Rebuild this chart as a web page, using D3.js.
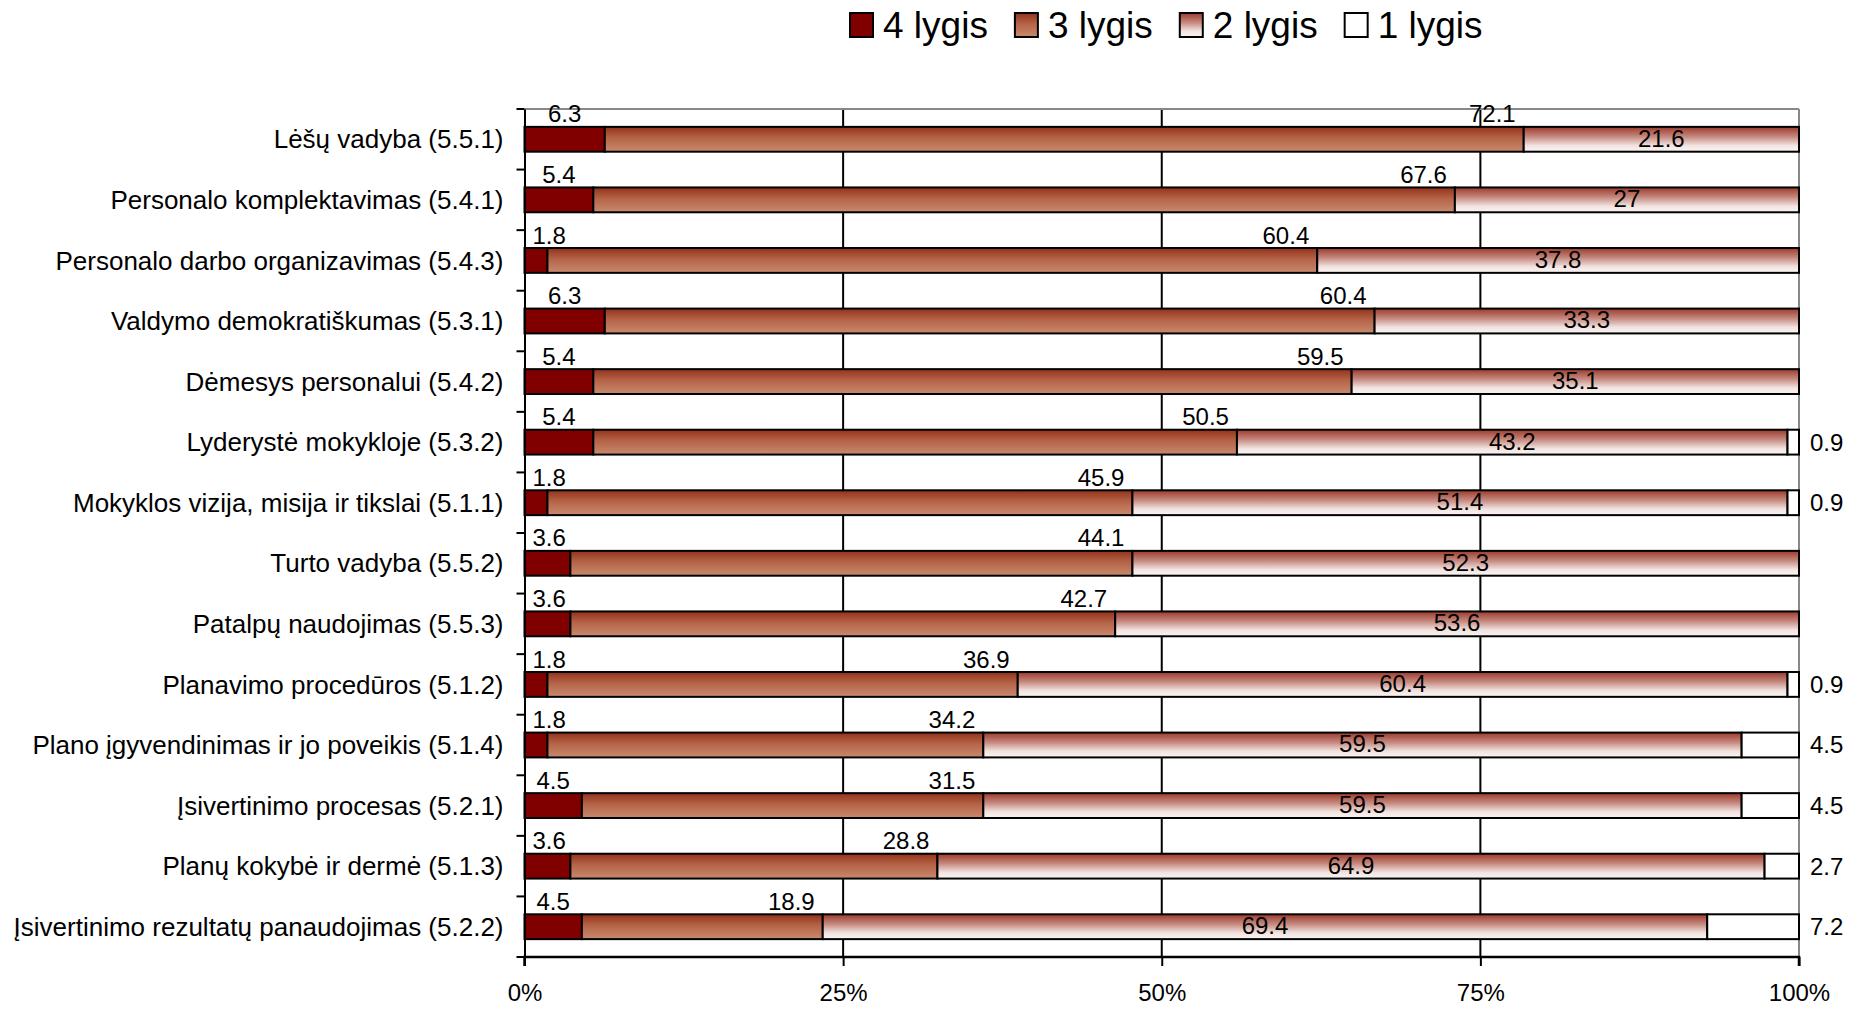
<!DOCTYPE html>
<html>
<head>
<meta charset="utf-8">
<script src="https://cdn.jsdelivr.net/npm/d3@7"></script>
<style>
  body { margin: 0; background: #fff; }
  svg text { font-family: "Liberation Sans", Arial, sans-serif; fill: #000; }
</style>
</head>
<body>
<svg id="chart" width="1857" height="1014"></svg>
<script>
const categories = [
  "Lėšų vadyba (5.5.1)",
  "Personalo komplektavimas (5.4.1)",
  "Personalo darbo organizavimas (5.4.3)",
  "Valdymo demokratiškumas (5.3.1)",
  "Dėmesys personalui (5.4.2)",
  "Lyderystė mokykloje (5.3.2)",
  "Mokyklos vizija, misija ir tikslai (5.1.1)",
  "Turto vadyba (5.5.2)",
  "Patalpų naudojimas (5.5.3)",
  "Planavimo procedūros (5.1.2)",
  "Plano įgyvendinimas ir jo poveikis (5.1.4)",
  "Įsivertinimo procesas (5.2.1)",
  "Planų kokybė ir dermė (5.1.3)",
  "Įsivertinimo rezultatų panaudojimas (5.2.2)"
];
const lygis4 = [6.3, 5.4, 1.8, 6.3, 5.4, 5.4, 1.8, 3.6, 3.6, 1.8, 1.8, 4.5, 3.6, 4.5];
const lygis3 = [72.1, 67.6, 60.4, 60.4, 59.5, 50.5, 45.9, 44.1, 42.7, 36.9, 34.2, 31.5, 28.8, 18.9];
const lygis2 = [21.6, 27, 37.8, 33.3, 35.1, 43.2, 51.4, 52.3, 53.6, 60.4, 59.5, 59.5, 64.9, 69.4];
const lygis1 = [0, 0, 0, 0, 0, 0.9, 0.9, 0, 0, 0.9, 4.5, 4.5, 2.7, 7.2];
const seriesNames = ["4 lygis", "3 lygis", "2 lygis", "1 lygis"];
const tickValues = [0, 0.25, 0.5, 0.75, 1];

const keys = ["l4", "l3", "l2", "l1"];
const values = {l4: lygis4, l3: lygis3, l2: lygis2, l1: lygis1};
const rows = categories.map((c, i) => ({
  name: c, idx: i, l4: lygis4[i], l3: lygis3[i], l2: lygis2[i], l1: lygis1[i]
}));

let svg = d3.select("#chart"),
    margin = {top: 109, right: 58, bottom: 57, left: 524.5},
    width = +svg.attr("width") - margin.left - margin.right,
    height = +svg.attr("height") - margin.top - margin.bottom,
    g = svg.append("g").attr("transform", "translate(" + margin.left + "," + margin.top + ")");

// gradients
let defs = svg.append("defs");
function grad(id, stops) {
  let lg = defs.append("linearGradient").attr("id", id)
    .attr("x1", 0).attr("y1", 0).attr("x2", 0).attr("y2", 1);
  stops.forEach(s => lg.append("stop").attr("offset", s[0]).attr("stop-color", s[1]));
}
grad("g3", [[0, "#93321a"], [0.45, "#b56448"], [1, "#c98a6e"]]);
grad("g2", [[0, "#9c3a2c"], [0.4, "#c68a80"], [0.75, "#f1e3e0"], [1, "#fbf5f4"]]);

const fills = {l4: "#800000", l3: "url(#g3)", l2: "url(#g2)", l1: "#ffffff"};

let x = d3.scaleLinear().domain([0, 1]).range([0, width]);
let y = d3.scaleBand().domain(categories).range([0, height]).paddingInner(0.59).paddingOuter(0.295);
let yb = d3.scaleBand().domain(categories).range([0, height]); // full band for ticks/labels

// vertical gridlines
g.append("g").selectAll("line")
  .data([0.25, 0.5, 0.75])
  .enter().append("line")
  .attr("x1", d => x(d)).attr("x2", d => x(d))
  .attr("y1", 0).attr("y2", height)
  .attr("stroke", "#000").attr("stroke-width", 2);

// top and right border
g.append("line").attr("x1", 0).attr("x2", width).attr("y1", 0).attr("y2", 0)
  .attr("stroke", "#888").attr("stroke-width", 2);
g.append("line").attr("x1", width).attr("x2", width).attr("y1", 0).attr("y2", height)
  .attr("stroke", "#888").attr("stroke-width", 2);

// 100% stacked
let stacked = d3.stack().keys(keys).offset(d3.stackOffsetExpand)(rows);

let layers = g.selectAll(".layer")
  .data(stacked)
  .enter().append("g")
  .attr("class", "layer")
  .attr("fill", d => fills[d.key]);

layers.selectAll("rect")
  .data(d => d.filter(p => values[d.key][p.data.idx] > 0))
  .enter().append("rect")
  .attr("x", d => x(d[0]))
  .attr("y", d => y(d.data.name))
  .attr("width", d => x(d[1]) - x(d[0]))
  .attr("height", y.bandwidth())
  .attr("stroke", "#000")
  .attr("stroke-width", 2);

// axes
let yAxis = g.append("g")
  .call(d3.axisLeft(yb).tickSize(0).tickPadding(21));
yAxis.select(".domain").attr("stroke", "#000").attr("stroke-width", 2);
yAxis.selectAll("text").style("font-size", "26px").attr("dy", "0.35em");
// band boundary ticks
g.append("g").selectAll("line")
  .data(d3.range(categories.length + 1))
  .enter().append("line")
  .attr("x1", -8).attr("x2", 0)
  .attr("y1", i => i * yb.step()).attr("y2", i => i * yb.step())
  .attr("stroke", "#000").attr("stroke-width", 2);

let xAxis = g.append("g")
  .attr("transform", "translate(0," + height + ")")
  .call(d3.axisBottom(x).tickValues(tickValues).tickFormat(d3.format(".0%")).tickSize(9).tickPadding(18));
xAxis.select(".domain").attr("stroke", "#000").attr("stroke-width", 2.5)
  .attr("d", "M0,9V0H" + width + "V9");
xAxis.selectAll(".tick line").attr("stroke", "#000").attr("stroke-width", 2);
xAxis.selectAll("text").style("font-size", "24px");

// data labels
let labels = g.append("g").style("font-size", "24px");
stacked.forEach(layer => {
  layer.forEach(p => {
    let v = values[layer.key][p.data.idx];
    if (v <= 0) return;
    let bandTop = yb(p.data.name);
    let cy = y(p.data.name) + y.bandwidth() / 2;
    let t = labels.append("text").text(v).attr("dy", "0.35em");
    if (layer.key === "l4") {
      let w = t.node().getComputedTextLength();
      let cx = Math.max((x(p[0]) + x(p[1])) / 2, 8 + w / 2);
      t.attr("x", cx).attr("y", bandTop + 5).attr("text-anchor", "middle");
    } else if (layer.key === "l3") {
      t.attr("x", x(p[1]) - 8).attr("y", bandTop + 5).attr("text-anchor", "end");
    } else if (layer.key === "l2") {
      t.attr("x", (x(p[0]) + x(p[1])) / 2).attr("y", cy - 1).attr("text-anchor", "middle");
    } else {
      t.attr("x", width + 11).attr("y", cy).attr("text-anchor", "start");
    }
  });
});

// legend
let legend = svg.append("g").attr("transform", "translate(850,13)");
let lx = 0;
seriesNames.forEach((s, i) => {
  let item = legend.append("g").attr("transform", "translate(" + lx + ",0)");
  item.append("rect").attr("width", 23).attr("height", 24)
    .attr("fill", fills[keys[i]]).attr("stroke", "#000").attr("stroke-width", 2);
  let t = item.append("text").attr("x", 33).attr("y", 12).attr("dy", "0.35em")
    .style("font-size", "37px").text(s);
  lx += 33 + t.node().getComputedTextLength() + 27;
});
</script>
</body>
</html>
